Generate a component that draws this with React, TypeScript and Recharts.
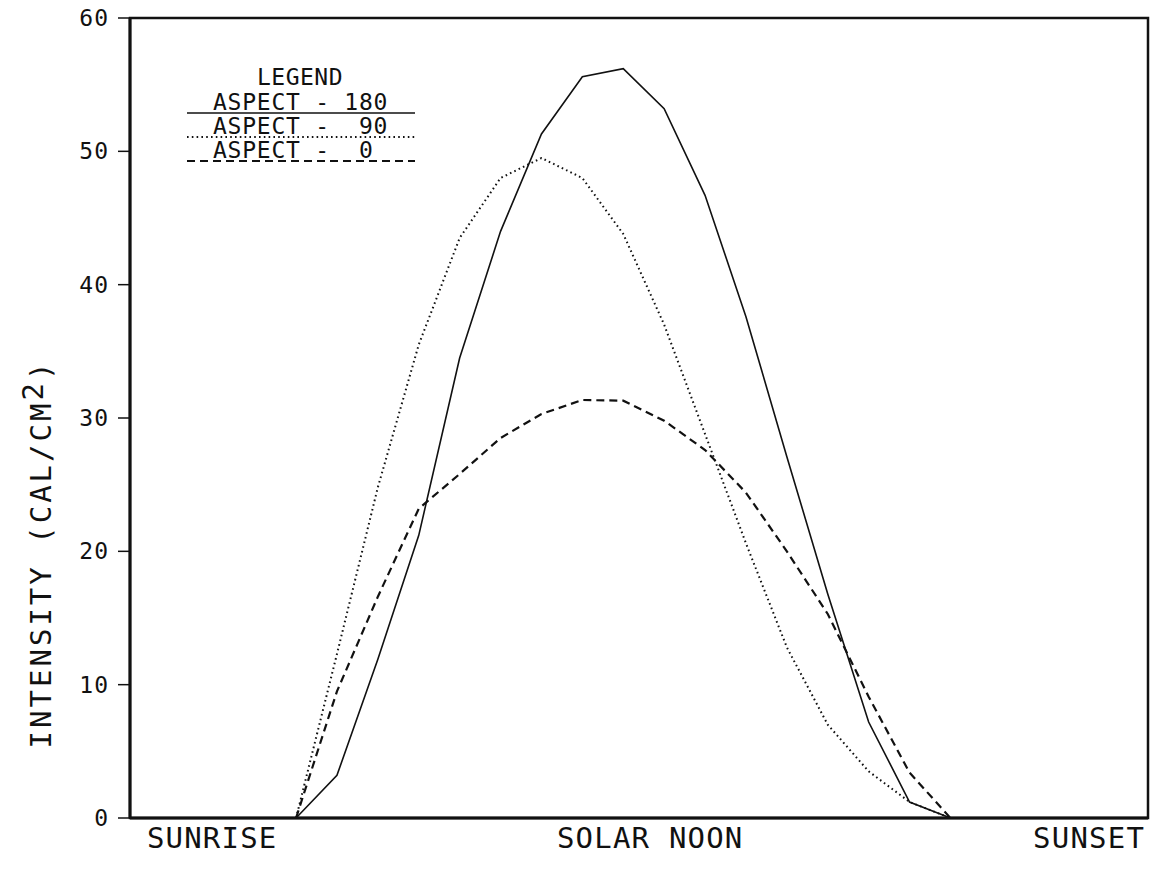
import React from 'react';
import {
  LineChart,
  Line,
  XAxis,
  YAxis,
  ReferenceArea,
  Customized,
} from 'recharts';

// hourly steps from first light to last light
const STEPS = [0, 1, 2, 3, 4, 5, 6, 7, 8, 9, 10, 11, 12, 13, 14, 15, 16];

const ASPECT_180 = [0, 3.2, 11.9, 21.2, 34.5, 44, 51.3, 55.6, 56.2, 53.2, 46.7, 37.6, 27.1, 16.8, 7.2, 1.2, 0];
const ASPECT_90 = [0, 12.3, 24.8, 35.5, 43.5, 48, 49.5, 48, 43.8, 37, 28.8, 20.6, 12.8, 7, 3.5, 1.2, 0];
const ASPECT_0 = [0, 9.5, 16.6, 23.2, 25.8, 28.5, 30.3, 31.35, 31.3, 29.8, 27.6, 24.4, 20, 15.3, 9.1, 3.4, 0];

const Y_TICKS = [0, 10, 20, 30, 40, 50, 60];
const X_TICKS = [-2.05, 8.66, 19.39];
const X_TICK_LABELS = ['SUNRISE', 'SOLAR NOON', 'SUNSET'];

const X_DOMAIN: [number, number] = [-4.06, 20.83];

const FONT = '"DejaVu Sans Mono", monospace';
const INK = '#111';

const data = STEPS.map((step, i) => ({
  step,
  a180: ASPECT_180[i],
  a90: ASPECT_90[i],
  a0: ASPECT_0[i],
}));

const SERIES = [
  { key: 'a180', name: 'ASPECT - 180', dash: undefined, width: 1.6 },
  { key: 'a90', name: 'ASPECT -  90', dash: '1.6 3.2', width: 2 },
  { key: 'a0', name: 'ASPECT -  0', dash: '8 5', width: 2.2 },
];

// legend block drawn inside the plot, upper left
function LegendBox() {
  const left = 180;
  const top = 60;
  return (
    <g transform={`translate(${left}, ${top})`}>
      <text x={120} y={25} textAnchor="middle" fontFamily={FONT} fontSize={23} letterSpacing={0.5} fill={INK}>
        LEGEND
      </text>
      {SERIES.map((s, i) => {
        const base = 50 + i * 24;
        return (
          <g key={s.key}>
            <text x={33} y={base} fontFamily={FONT} fontSize={23} letterSpacing={0.75} fill={INK} style={{ whiteSpace: 'pre' }}>
              {s.name}
            </text>
            <line
              x1={7}
              x2={235}
              y1={base + 3}
              y2={base + 3}
              stroke={INK}
              strokeWidth={s.width}
              strokeDasharray={s.dash}
            />
          </g>
        );
      })}
    </g>
  );
}

function YLabel({ viewBox }: any) {
  const cx = 41;
  const cy = viewBox.y + viewBox.height * 0.67;
  return (
    <text
      x={cx}
      y={cy}
      transform={`rotate(-90, ${cx}, ${cy})`}
      textAnchor="middle"
      dominantBaseline="central"
      fontFamily={FONT}
      fontSize={29}
      letterSpacing={3}
      fill={INK}
    >
      INTENSITY (CAL/CM
      <tspan dy={-8}>2</tspan>
      <tspan dy={8}>)</tspan>
    </text>
  );
}

export default function App() {
  return (
    <div style={{ position: 'fixed', left: 0, top: 0, width: 1159, height: 885, background: '#fff' }}>
      <LineChart width={1159} height={885} data={data} margin={{ top: 18, right: 11, left: 0, bottom: 7 }}>
        <XAxis
          dataKey="step"
          type="number"
          domain={X_DOMAIN}
          allowDataOverflow
          ticks={X_TICKS}
          tickFormatter={(v: number) => X_TICK_LABELS[X_TICKS.indexOf(v)]}
          interval={0}
          height={60}
          tickLine={false}
          tickSize={0}
          tickMargin={9}
          axisLine={{ stroke: INK, strokeWidth: 3 }}
          tick={{ fontFamily: FONT, fontSize: 29, fill: INK, letterSpacing: 1.2 }}
        />
        <YAxis
          type="number"
          domain={[0, 60]}
          ticks={Y_TICKS}
          interval={0}
          width={130}
          tickSize={12}
          tickMargin={9}
          tickLine={{ stroke: INK, strokeWidth: 1.5 }}
          axisLine={{ stroke: INK, strokeWidth: 3 }}
          tick={{ fontFamily: FONT, fontSize: 23, fill: INK, letterSpacing: 1 }}
          label={<YLabel />}
        />
        <ReferenceArea
          x1={X_DOMAIN[0]}
          x2={X_DOMAIN[1]}
          y1={0}
          y2={60}
          fill="none"
          stroke={INK}
          strokeWidth={2.5}
          ifOverflow="visible"
        />
        {SERIES.map((s) => (
          <Line
            key={s.key}
            dataKey={s.key}
            name={s.name}
            type="linear"
            stroke={INK}
            strokeWidth={s.width}
            strokeDasharray={s.dash}
            dot={false}
            activeDot={false}
            isAnimationActive={false}
          />
        ))}
        <Customized component={LegendBox} />
      </LineChart>
    </div>
  );
}
